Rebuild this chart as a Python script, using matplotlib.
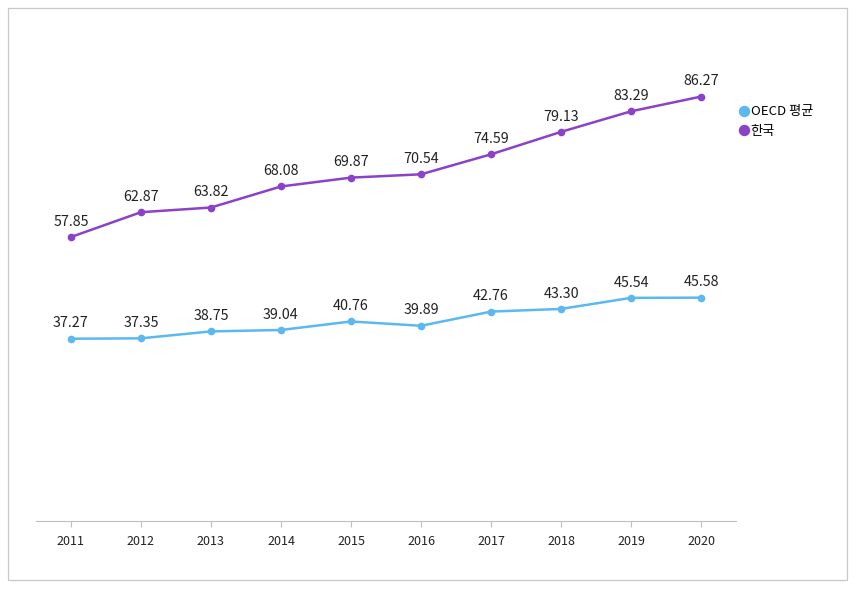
import matplotlib
matplotlib.use("Agg")
import matplotlib.pyplot as plt
from matplotlib.patches import Rectangle

plt.rcParams['font.family'] = ['Noto Sans CJK KR', 'DejaVu Sans']

years = [2011, 2012, 2013, 2014, 2015, 2016, 2017, 2018, 2019, 2020]
oecd = [37.27, 37.35, 38.75, 39.04, 40.76, 39.89, 42.76, 43.30, 45.54, 45.58]
korea = [57.85, 62.87, 63.82, 68.08, 69.87, 70.54, 74.59, 79.13, 83.29, 86.27]
series_names = ["OECD 평균", "한국"]

C_OECD = "#5bb8f0"
C_KOR = "#8b42c8"

fig = plt.figure(figsize=(8.55, 5.94), dpi=100)
ax = fig.add_axes([0.042, 0.123, 0.819, 0.832])

# outer frame around the whole chart
fig.patches.append(Rectangle((8 / 855, 14 / 594), 839 / 855, 572 / 594,
                             transform=fig.transFigure, fill=False,
                             edgecolor="#c8c8c8", lw=0.9))

for vals, col, name in ((oecd, C_OECD, series_names[0]),
                        (korea, C_KOR, series_names[1])):
    ax.plot(years, vals, "-o", color=col, lw=1.8, ms=4.5, label=name)
    for x, v in zip(years, vals):
        ax.annotate(f"{v:.2f}", (x, v), xytext=(0, 6),
                    textcoords="offset points", ha="center", va="bottom",
                    fontsize=10.3, color="#222222")

ax.set_xlim(2010.5, 2020.5)
ax.set_ylim(0.4, 100.4)
ax.set_xticks(years)
ax.set_xticklabels([str(y) for y in years], fontsize=9, color="#222222")
ax.set_yticks([])
for s in ("left", "right", "top"):
    ax.spines[s].set_visible(False)
ax.spines["bottom"].set_color("#bfbfbf")
ax.tick_params(axis="x", length=4, color="#bfbfbf", pad=6)

ax.legend(loc="upper left", bbox_to_anchor=(0.998, 0.86), frameon=False,
          handlelength=0, handletextpad=0.5, markerscale=1.6,
          fontsize=9.5, labelspacing=0.5, borderaxespad=0.3)
leg = ax.get_legend()
for h in leg.legend_handles:
    h.set_linestyle("")

fig.savefig("out.png", dpi=100)
